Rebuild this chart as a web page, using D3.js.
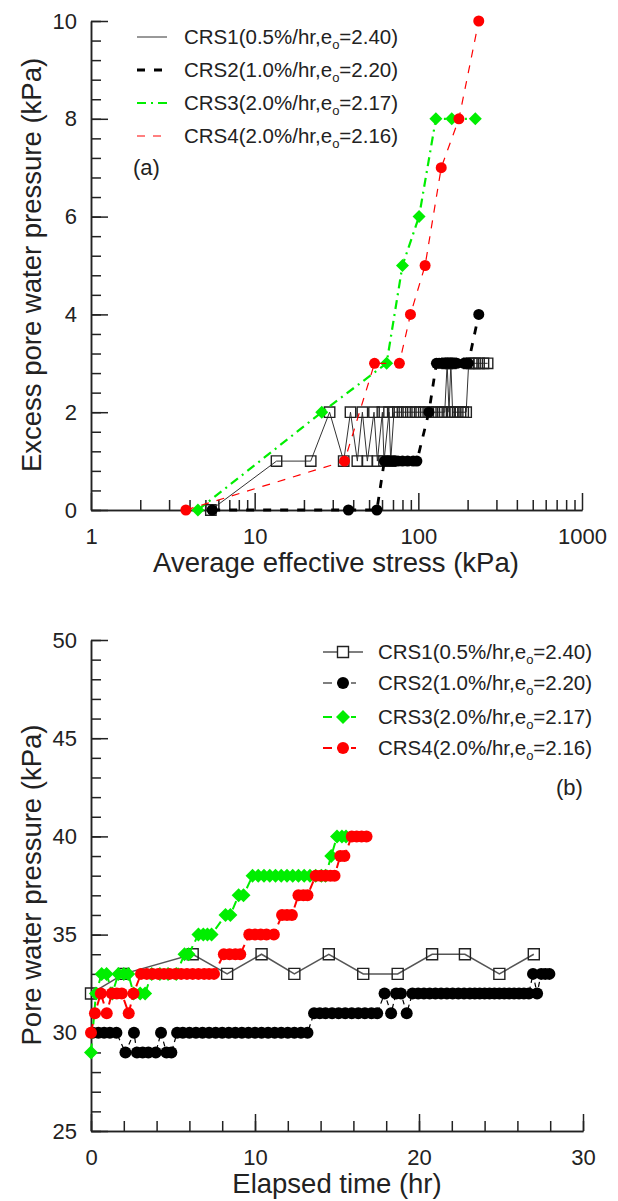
<!DOCTYPE html>
<html lang="en">
<head>
<meta charset="UTF-8">
<title>CRS excess pore water pressure</title>
<script src="https://d3js.org/d3.v7.min.js"></script>
<style>
    body{margin:0;background:#fff;}
    svg{display:block;font-family:"Liberation Sans",Arial,sans-serif;}
    .axis path,.axis line{stroke:#222;stroke-width:1.5;}
    .axis text{font-size:22px;fill:#222;font-family:"Liberation Sans",Arial,sans-serif;}
    .title{font-size:27.5px;fill:#222;}
    .leg{font-size:20.5px;fill:#222;}
</style>
</head>
<body>
<svg id="chart" width="618" height="1201"></svg>
<script>
// legend labels
const names = ['CRS1','CRS2','CRS3','CRS4'];
const rates = ['0.5','1.0','2.0','2.0'];
const voidRatio = ['2.40','2.20','2.17','2.16'];

// (a) average effective stress (kPa) vs excess pore water pressure (kPa)
const a1Stress = [5.4,13.6,22,28.7,35,38.5,42.4,45.5,48.8,53.6,56.2,60.3,61.7,66.2,67.8,71,75,80,85,90,96,102,108,115,122,130,138,145,150,154,158,162,167,174,181,188,196,203,212,222,235,250,265];
const a1Pore   = [0,1,1,2,1,2,1,2,1,2,1,2,1,2,1,2,2,2,2,2,2,2,2,2,2,2,2,2,3,2,3,2,2,2,2,2,2,3,3,3,3,3,3];
const a2Stress = [5.5,37.4,55.8,62,65,68,71,75,80,86,93,98,116,129,134,139,145,151,158,165,172,190,196,202,234];
const a2Pore   = [0,0,0,1,1,1,1,1,1,1,1,1,2,3,3,3,3,3,3,3,3,3,3,3,4];
const a3Stress = [4.5,25.7,64,80,101,128,160,223];
const a3Pore   = [0,2,3,5,6,8,8,8];
const a4Stress = [3.8,35.4,54,76.6,89.5,110,138,177,234];
const a4Pore   = [0,1,3,3,4,5,7,8,10];

// (b) elapsed time (hr) vs pore water pressure (kPa)
const b1Time = [0,2.0,6.2,8.3,10.4,12.4,14.5,16.6,18.7,20.8,22.8,24.9,27.0];
const b1Pore = [32,33,34,33,34,33,34,33,33,34,34,33,34];
const b2Time = [0.1,0.45,0.8,1.15,1.55,2.1,2.62,2.8,3.15,3.5,3.95,4.27,4.6,4.9,
    5.25,5.6,6.0,6.4,6.8,7.2,7.6,8.0,8.4,8.8,9.2,9.6,10.0,10.4,10.8,11.2,11.6,12.0,12.4,12.8,13.2,
    13.6,13.95,14.3,14.7,15.1,15.5,15.9,16.3,16.7,17.1,17.45,
    17.9,18.3,18.6,18.9,19.25,
    19.6,19.95,20.3,20.65,21.0,21.35,21.7,22.05,22.4,22.75,23.1,23.4,23.7,24.0,24.3,24.6,24.9,25.2,25.5,25.8,26.1,26.4,26.7,
    26.95,27.2,27.45,27.7,27.95];
const b2Pore = [30,30,30,30,30,29,30,29,29,29,29,30,29,29,
    30,30,30,30,30,30,30,30,30,30,30,30,30,30,30,30,30,30,30,30,30,
    31,31,31,31,31,31,31,31,31,31,31,
    32,31,32,32,31,
    32,32,32,32,32,32,32,32,32,32,32,32,32,32,32,32,32,32,32,32,32,32,32,
    33,32,33,33,33];
const b3Time = [0,0.3,0.65,0.95,1.3,1.67,2.0,2.27,2.6,3.0,3.3,3.7,4.2,4.7,5.2,5.7,5.95,6.55,6.85,7.1,7.35,8.2,8.5,9.0,9.3,
    9.85,10.2,10.55,10.9,11.25,11.6,11.95,12.3,12.65,13.0,13.35,13.7,14.05,14.3,14.65,15.0,15.3,15.55];
const b3Pore = [29,32,33,33,32,33,33,33,32,32,32,33,33,33,33,34,34,35,35,35,35,36,36,37,37,
    38,38,38,38,38,38,38,38,38,38,38,38,38,38,39,40,40,40];
const b4Time = [0,0.24,0.6,0.96,1.27,1.57,1.88,2.3,2.59,
    3.05,3.4,3.75,4.1,4.45,4.8,5.15,5.5,5.85,6.2,6.55,6.9,7.2,7.5,
    8.1,8.45,8.8,9.1,9.65,10.0,10.35,10.7,11.15,11.65,11.95,12.25,12.65,12.95,13.2,
    13.7,14.0,14.3,14.6,14.85,15.2,15.45,15.9,16.2,16.5,16.8];
const b4Pore = [30,31,32,31,32,32,32,31,32,
    33,33,33,33,33,33,33,33,33,33,33,33,33,33,
    34,34,34,34,35,35,35,35,35,36,36,36,37,37,37,
    38,38,38,38,38,39,39,40,40,40,40];

const svg = d3.select('#chart');
svg.append('rect').attr('width',618).attr('height',1201).attr('fill','#fff');

const GREEN = '#00ee00', RED = '#ff0000';

function marker(type,s){
    if(type==='square') return `M${-s},${-s}H${s}V${s}H${-s}Z`;
    if(type==='diamond') return `M0,${-s}L${s},0L0,${s}L${-s},0Z`;
    return d3.symbol(d3.symbolCircle, Math.PI*s*s)();
}

function series(g,xs,ys,x,y,st){
    const pts = xs.map((v,i)=>[x(v),y(ys[i])]);
    g.append('path')
        .attr('d',d3.line()(pts))
        .attr('fill','none')
        .attr('stroke',st.color)
        .attr('stroke-width',st.width)
        .attr('stroke-dasharray',st.dash);
    g.append('g').selectAll('path')
        .data(pts)
        .join('path')
        .attr('transform',d=>`translate(${d[0]},${d[1]})`)
        .attr('d',marker(st.marker,st.size))
        .attr('fill',st.marker==='square'?'none':st.color)
        .attr('stroke',st.marker==='square'?'#222':'none')
        .attr('stroke-width',1.4);
}

function legendText(g,x,y,i){
    const t = g.append('text').attr('class','leg').attr('x',x).attr('y',y).attr('dy','0.35em');
    t.append('tspan').text(`${names[i]}(${rates[i]}%/hr,e`);
    t.append('tspan').text('o').attr('font-size','13px').attr('dy',5);
    t.append('tspan').text(`=${voidRatio[i]})`).attr('dy',-5);
}

// ---------- panel (a) ----------
const xA = d3.scaleLog().domain([1,1000]).range([91,582]);
const yA = d3.scaleLinear().domain([0,10]).range([510,21]);

const majA = [1,10,100,1000];
svg.append('g').attr('class','axis').attr('transform','translate(0,510)')
    .call(d3.axisBottom(xA).tickValues(xA.ticks().filter(d=>!majA.includes(d))).tickSize(-10).tickSizeOuter(0).tickFormat(''));
svg.append('g').attr('class','axis').attr('transform','translate(0,510)')
    .call(d3.axisBottom(xA).tickValues(majA).tickSize(-17).tickSizeOuter(0).tickPadding(18).tickFormat(d3.format('d')));
svg.append('g').attr('class','axis').attr('transform','translate(91,0)')
    .call(d3.axisLeft(yA).tickValues(d3.range(0,10.01,0.4)).tickSize(-10).tickSizeOuter(0).tickFormat(''));
svg.append('g').attr('class','axis').attr('transform','translate(91,0)')
    .call(d3.axisLeft(yA).tickValues([0,2,4,6,8,10]).tickSize(-17).tickSizeOuter(0).tickPadding(14));

const stylesA = [
    {color:'#333',width:1,dash:null,marker:'square',size:5.2},
    {color:'#000',width:2.8,dash:'8,9',marker:'circle',size:5.5},
    {color:GREEN,width:2.2,dash:'9,5,2,5',marker:'diamond',size:6.5},
    {color:RED,width:1.2,dash:'8,8',marker:'circle',size:5.5}
];
const gA = svg.append('g');
series(gA,a1Stress,a1Pore,xA,yA,stylesA[0]);
series(gA,a2Stress,a2Pore,xA,yA,stylesA[1]);
series(gA,a3Stress,a3Pore,xA,yA,stylesA[2]);
series(gA,a4Stress,a4Pore,xA,yA,stylesA[3]);

const legA = [37,70,103,136];
legA.forEach((ly,i)=>{
    const st = stylesA[i];
    svg.append('line').attr('x1',137).attr('x2',167).attr('y1',ly).attr('y2',ly)
        .attr('stroke',st.color).attr('stroke-width',st.width).attr('stroke-dasharray',st.dash);
    legendText(svg,184,ly,i);
});
svg.append('text').attr('class','leg').style('font-size','22px').attr('x',133).attr('y',167).attr('dy','0.35em').text('(a)');

svg.append('text').attr('class','title').attr('text-anchor','middle')
    .attr('x',336).attr('y',572).text('Average effective stress (kPa)');
svg.append('text').attr('class','title').attr('text-anchor','middle')
    .attr('transform','translate(41,265) rotate(-90)').text('Excess pore water pressure (kPa)');

// ---------- panel (b) ----------
const xB = d3.scaleLinear().domain([0,30]).range([91,583]);
const yB = d3.scaleLinear().domain([25,50]).range([1131,640]);

svg.append('g').attr('class','axis').attr('transform','translate(0,1131)')
    .call(d3.axisBottom(xB).tickValues(d3.range(0,31,2)).tickSize(-10).tickSizeOuter(0).tickFormat(''));
svg.append('g').attr('class','axis').attr('transform','translate(0,1131)')
    .call(d3.axisBottom(xB).tickValues([0,10,20,30]).tickSize(-17).tickSizeOuter(0).tickPadding(18));
svg.append('g').attr('class','axis').attr('transform','translate(91,0)')
    .call(d3.axisLeft(yB).tickValues(d3.range(25,51,1)).tickSize(-10).tickSizeOuter(0).tickFormat(''));
svg.append('g').attr('class','axis').attr('transform','translate(91,0)')
    .call(d3.axisLeft(yB).tickValues([25,30,35,40,45,50]).tickSize(-17).tickSizeOuter(0).tickPadding(14));

const stylesB = [
    {color:'#555',width:1.5,dash:null,marker:'square',size:5.5},
    {color:'#000',width:1.2,dash:'5,4',marker:'circle',size:6},
    {color:GREEN,width:2,dash:'9,5',marker:'diamond',size:7},
    {color:RED,width:2,dash:'9,5',marker:'circle',size:6}
];
const gB = svg.append('g');
series(gB,b1Time,b1Pore,xB,yB,stylesB[0]);
series(gB,b2Time,b2Pore,xB,yB,stylesB[1]);
series(gB,b3Time,b3Pore,xB,yB,stylesB[2]);
series(gB,b4Time,b4Pore,xB,yB,stylesB[3]);

const legB = [652,683,717,748];
legB.forEach((ly,i)=>{
    const st = stylesB[i];
    const g = svg.append('g');
    g.append('line').attr('x1',323).attr('x2',i===0?363:356).attr('y1',ly).attr('y2',ly)
        .attr('stroke',st.color).attr('stroke-width',st.width).attr('stroke-dasharray',i===0?null:'9,5');
    g.append('path').attr('transform',`translate(343,${ly})`)
        .attr('d',marker(st.marker,st.size))
        .attr('fill',st.marker==='square'?'#fff':st.color)
        .attr('stroke',st.marker==='square'?'#222':'none').attr('stroke-width',1.4);
    legendText(svg,378,ly,i);
});
svg.append('text').attr('class','leg').style('font-size','22px').attr('x',556).attr('y',787).attr('dy','0.35em').text('(b)');

svg.append('text').attr('class','title').attr('text-anchor','middle')
    .attr('x',337).attr('y',1193).text('Elapsed time (hr)');
svg.append('text').attr('class','title').attr('text-anchor','middle')
    .attr('transform','translate(41,885) rotate(-90)').text('Pore water pressure (kPa)');
</script>
</body>
</html>
